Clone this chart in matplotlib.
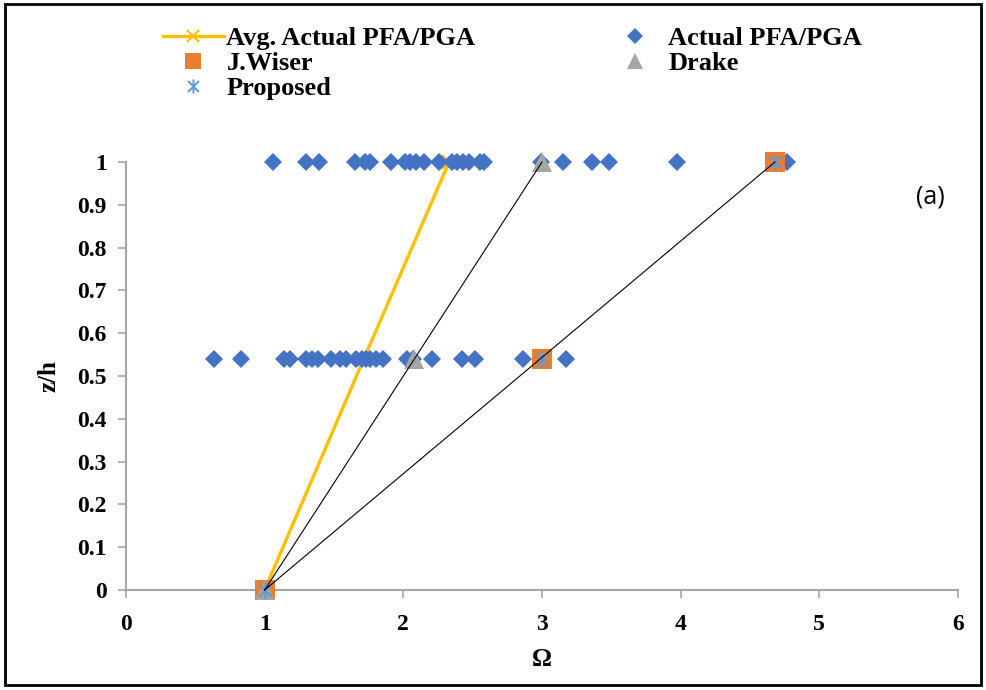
import matplotlib
matplotlib.use("Agg")
import matplotlib.pyplot as plt
from matplotlib.path import Path
from matplotlib.patches import Rectangle
from matplotlib.ticker import FuncFormatter

plt.rcParams['font.family'] = ['Liberation Serif', 'DejaVu Serif']
plt.rcParams['font.weight'] = 'bold'

# Measured PFA/PGA ratios at the two instrumented levels
actual_top_omega = [1.06, 1.30, 1.39, 1.65, 1.72, 1.76, 1.91, 2.01, 2.05, 2.09, 2.15,
                    2.26, 2.35, 2.39, 2.43, 2.47, 2.55, 2.58, 2.99, 3.15, 3.36, 3.48,
                    3.97, 4.68, 4.77]
actual_mid_omega = [0.635, 0.83, 1.14, 1.18, 1.30, 1.34, 1.385, 1.48, 1.54, 1.59, 1.66,
                    1.70, 1.73, 1.76, 1.80, 1.85, 2.03, 2.07, 2.21, 2.42, 2.52, 2.86,
                    3.00, 3.17]
level_top = 1.0
level_mid = 0.54

# Average and code-based amplification profiles
zh_levels = [0.0, 0.54, 1.0]
avg_omega = [1.0, 1.715, 2.33]
wiser_omega = [1.0, 3.0, 4.68]
drake_omega = [1.0, 2.08, 3.0]
proposed_omega = [1.0, 3.0, 4.68]

x_ticks = [0, 1, 2, 3, 4, 5, 6]
y_ticks = [0, 0.1, 0.2, 0.3, 0.4, 0.5, 0.6, 0.7, 0.8, 0.9, 1.0]

fig = plt.figure(figsize=(9.86, 6.90), dpi=100)
ax = fig.add_axes([126/986, 1 - 590/690, (958 - 126)/986, (590 - 162)/690])

# six-armed asterisk marker
star = Path([(-1, -1), (1, 1), (-1, 1), (1, -1), (0, -1.3), (0, 1.3)],
            [Path.MOVETO, Path.LINETO, Path.MOVETO, Path.LINETO, Path.MOVETO, Path.LINETO])

h_avg, = ax.plot(avg_omega, zh_levels, color='#FFC000', lw=2.4, marker='x',
                 markersize=10, markeredgewidth=1.5, zorder=1, clip_on=False,
                 label='Avg. Actual PFA/PGA')
h_act, = ax.plot(actual_top_omega + actual_mid_omega,
                 [level_top] * len(actual_top_omega) + [level_mid] * len(actual_mid_omega),
                 linestyle='none', marker='D', markersize=9.5, color='#4472C4',
                 markeredgewidth=0, zorder=3, clip_on=False, label='Actual PFA/PGA')
h_wis, = ax.plot(wiser_omega, zh_levels, linestyle='none', marker='s', markersize=14,
                 color='#ED7D31', markeredgewidth=0, zorder=4, clip_on=False,
                 label='J.Wiser')
h_dra, = ax.plot(drake_omega, zh_levels, linestyle='none', marker='^', markersize=14,
                 color='#A5A5A5', markeredgewidth=0, zorder=4, clip_on=False,
                 label='Drake')
h_pro, = ax.plot(proposed_omega, zh_levels, linestyle='none', marker=star, markersize=12,
                 markerfacecolor='none', markeredgecolor='#5B9BD5', markeredgewidth=1.4,
                 zorder=5, clip_on=False, label='Proposed')
# straight reference lines through the code profiles, over the markers
ax.plot([drake_omega[0], drake_omega[-1]], [zh_levels[0], zh_levels[-1]],
        color='black', lw=0.8, zorder=6, clip_on=False)
ax.plot([wiser_omega[0], wiser_omega[-1]], [zh_levels[0], zh_levels[-1]],
        color='black', lw=0.8, zorder=6, clip_on=False)

ax.set_xlim(0, 6)
ax.set_ylim(0, 1)
ax.set_xticks(x_ticks)
ax.set_yticks(y_ticks)
ax.yaxis.set_major_formatter(FuncFormatter(lambda v, p: f"{v:g}"))
for s in ('top', 'right'):
    ax.spines[s].set_visible(False)
for s in ('left', 'bottom'):
    ax.spines[s].set_color('#A6A6A6')
    ax.spines[s].set_linewidth(1.5)
ax.tick_params(axis='both', direction='out', length=6, width=1.2, color='#A6A6A6',
               labelsize=17, labelcolor='black')
ax.tick_params(axis='x', pad=11)
ax.tick_params(axis='y', pad=8)
for lab in ax.get_xticklabels() + ax.get_yticklabels():
    lab.set_fontweight('bold')

ax.set_xlabel('Ω', fontsize=18, fontweight='bold', labelpad=10)
ax.set_ylabel('z/h', fontsize=18, fontweight='bold', labelpad=12)

ax.text(930/986, 1 - 197/690, '(a)', transform=fig.transFigure, fontsize=18,
        fontweight='normal', family=['Open Sans', 'DejaVu Sans'], ha='center', va='center')

fig.legend(handles=[h_avg, h_wis, h_pro, h_act, h_dra], ncol=2, frameon=False,
           loc='upper left', bbox_to_anchor=(163/986, 1 - 27/690),
           prop={'size': 19, 'weight': 'bold'}, handlelength=2.3, handletextpad=0.1,
           columnspacing=4.9, labelspacing=0.05, borderaxespad=0, borderpad=0,
           markerscale=0.85)

fig.add_artist(Rectangle((5/986, 5/690), 976/986, 681/690, transform=fig.transFigure,
                         fill=False, edgecolor='black', linewidth=2))

fig.savefig('out.png', dpi=100)
